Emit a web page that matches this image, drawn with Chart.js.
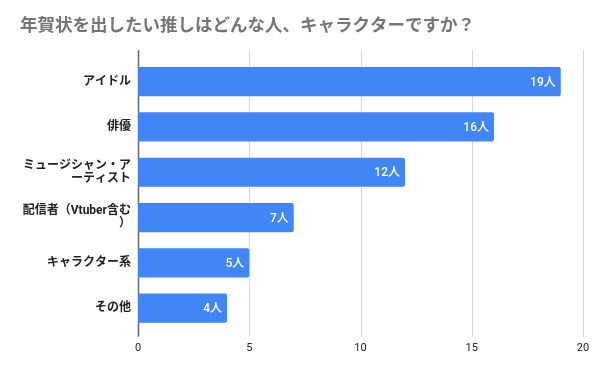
<!DOCTYPE html>
<html>
<head>
<meta charset="utf-8">
<script src="https://cdn.jsdelivr.net/npm/chart.js@4"></script>
<style>
  html, body { margin: 0; padding: 0; background: #fff; }
  #wrap { width: 602px; height: 372px; }
</style>
</head>
<body>
<div id="wrap"><canvas id="chart"></canvas></div>
<script>
// DATA
var categories = [
   "アイドル",
   "俳優",
   ["ミュージシャン・ア", "ーティスト"],
   ["配信者（Vtuber含む", "）"],
   "キャラクター系",
   "その他",
];
var values = [19, 16, 12, 7, 5, 4];
var xTicks = [0, 5, 10, 15, 20];
var unit = "人";

var FONT = "Roboto, 'Noto Sans CJK JP', sans-serif";

// grid lines that run a bit past the bars, like the original
var gridPlugin = {
   id: "gridExt",
   beforeDatasetsDraw: function (chart) {
      var ctx = chart.ctx;
      var x = chart.scales.x;
      var top = chart.chartArea.top - 9;
      var bottom = chart.chartArea.bottom + 6;
      ctx.save();
      xTicks.forEach(function (v) {
         var px = Math.round(x.getPixelForValue(v)) + 0.5;
         ctx.beginPath();
         ctx.strokeStyle = v === 0 ? "#666666" : "#d6d6d6";
         ctx.lineWidth = v === 0 ? 1.5 : 1;
         ctx.moveTo(px, top);
         ctx.lineTo(px, bottom);
         ctx.stroke();
      });
      ctx.restore();
   },
};

// value labels inside the end of each bar
var labelPlugin = {
   id: "barLabels",
   afterDatasetsDraw: function (chart) {
      var ctx = chart.ctx;
      var meta = chart.getDatasetMeta(0);
      ctx.save();
      ctx.font = "500 12px " + FONT;
      ctx.fillStyle = "#ffffff";
      ctx.textAlign = "right";
      ctx.textBaseline = "middle";
      meta.data.forEach(function (bar, i) {
         ctx.fillText(values[i] + unit, bar.x - 5, bar.y + 1);
      });
      ctx.restore();
   },
};

var ctx = document.getElementById("chart").getContext("2d");
window.chart1 = new Chart(ctx, {
   type: "bar",
   data: {
      labels: categories,
      datasets: [
         {
            data: values,
            backgroundColor: "#4285f4",
            borderRadius: 2,
            borderSkipped: "left",
            categoryPercentage: 1,
            barPercentage: 0.645,
         },
      ],
   },
   options: {
      indexAxis: "y",
      responsive: true,
      maintainAspectRatio: false,
      animation: false,
      layout: {
         padding: { left: 20, right: 19, top: 0, bottom: 6 },
      },
      plugins: {
         legend: { display: false },
         tooltip: { enabled: false },
         title: {
            display: true,
            text: "年賀状を出したい推しはどんな人、キャラクターですか？",
            align: "start",
            color: "#757575",
            font: { family: FONT, size: 17.5, weight: "bold", lineHeight: 1.2 },
            padding: { top: 16.5, bottom: 21.5 },
         },
      },
      scales: {
         x: {
            min: 0,
            max: 20,
            afterBuildTicks: function (scale) {
               scale.ticks = xTicks.map(function (v) {
                  return { value: v };
               });
            },
            grid: { display: false, drawTicks: false },
            border: { display: false },
            ticks: {
               color: "#222222",
               padding: 11,
               font: { family: FONT, size: 11 },
            },
         },
         y: {
            grid: { display: false, drawTicks: false },
            border: { display: false },
            afterFit: function (scale) {
               scale.width = 118;
            },
            ticks: {
               color: "#222222",
               padding: 7,
               font: { family: FONT, size: 12, weight: "bold", lineHeight: 1.1 },
            },
         },
      },
   },
   plugins: [gridPlugin, labelPlugin],
});
</script>
</body>
</html>
